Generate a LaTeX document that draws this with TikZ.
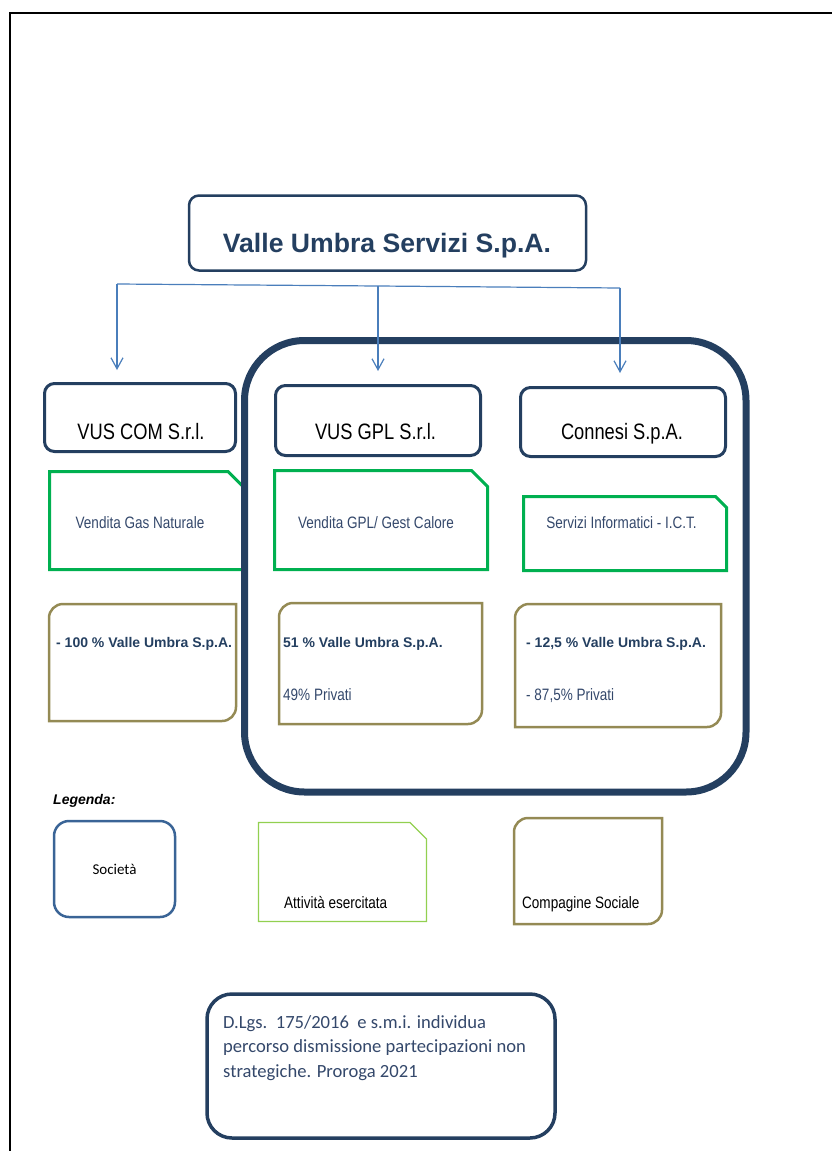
\documentclass[tikz,border=0pt]{standalone}
\usepackage{fontspec}
\setmainfont{Liberation Sans}
\newfontfamily\arialnarrow[FakeStretch=0.82]{Liberation Sans}
\newfontfamily\calibri{Carlito}
\usepackage{tikz}
\usetikzlibrary{arrows.meta}
\definecolor{navy}{HTML}{243F60}
\definecolor{slate}{HTML}{34486B}
\definecolor{linkblue}{HTML}{4A7EBB}
\definecolor{actgreen}{HTML}{00B050}
\definecolor{legendgreen}{HTML}{92D050}
\definecolor{quotaolive}{HTML}{948A54}
\definecolor{legendblue}{HTML}{3A6496}

\begin{document}
\begin{tikzpicture}[x=1pt,y=1pt,
  company/.style={draw=navy,line width=3pt,rounded corners=10pt,inner sep=0pt},
  activity/.style={draw=actgreen,line width=3pt},
  quota/.style={draw=quotaolive,line width=2.5pt},
  link/.style={draw=linkblue,line width=1.2pt},
  linkarrow/.style={link,-{Straight Barb[length=11pt,width=12pt]}},
  compname/.style={font=\arialnarrow\fontsize{22.3}{26}\selectfont,anchor=base,inner sep=0pt},
  acttext/.style={font=\arialnarrow\fontsize{16.5}{19}\selectfont,text=slate,anchor=base,inner sep=0pt},
  sharetext/.style={font=\bfseries\fontsize{14}{17}\selectfont,text=navy,anchor=base west,inner sep=0pt},
  legtext/.style={font=\arialnarrow\fontsize{16.5}{19}\selectfont,anchor=base west,inner sep=0pt}]

\useasboundingbox (0,0) rectangle (832,-1151);

\draw[line width=2pt] (10,-1152) -- (10,-13) -- (833,-13);

\node[company,line width=2.5pt,minimum width=397pt,minimum height=75pt] (vus) at (387.5,-233) {};
\node[font=\bfseries\fontsize{26.6}{30}\selectfont,text=navy,anchor=base] (vusname) at (387,-252) {Valle Umbra Servizi S.p.A.};

\node[company,minimum width=191pt,minimum height=68pt] (com) at (140,-417.5) {};
\node[company,minimum width=205pt,minimum height=70pt] (gpl) at (378,-420.5) {};
\node[company,minimum width=205pt,minimum height=69pt] (con) at (623,-422) {};
\node[compname] (comname) at (141,-439) {VUS COM S.r.l.};
\node[compname] (gplname) at (375.5,-439) {VUS GPL S.r.l.};
\node[compname] (conname) at (622,-439) {Connesi S.p.A.};

\draw[activity] (49.5,-569.5) -- (49.5,-471.5) -- (228,-471.5) -- (243,-486.5) -- (243,-569.5) -- cycle;
\draw[activity] (274.5,-569.5) -- (274.5,-470.5) -- (471.5,-470.5) -- (487.5,-486.5) -- (487.5,-569.5) -- cycle;
\draw[activity] (523.5,-570.5) -- (523.5,-496.5) -- (715.5,-496.5) -- (726.5,-507.5) -- (726.5,-570.5) -- cycle;
\node[acttext] (comact) at (140,-528) {Vendita Gas Naturale};
\node[acttext] (gplact) at (376,-528) {Vendita GPL/ Gest Calore};
\node[acttext] (conact) at (621.5,-528) {Servizi Informatici - I.C.T.};

\draw[quota] (49,-721) -- (49,-618) arc[start angle=180,end angle=90,radius=14pt] -- (236,-604) -- (236,-707) arc[start angle=0,end angle=-90,radius=14pt] -- cycle;
\draw[quota] (279,-724) -- (279,-617) arc[start angle=180,end angle=90,radius=14pt] -- (482,-603) -- (482,-710) arc[start angle=0,end angle=-90,radius=14pt] -- cycle;
\draw[quota] (515,-727) -- (515,-618) arc[start angle=180,end angle=90,radius=14pt] -- (721,-604) -- (721,-713) arc[start angle=0,end angle=-90,radius=14pt] -- cycle;
\node[sharetext] (comshare) at (56,-647) {- 100 \% Valle Umbra S.p.A.};
\node[sharetext] (gplshare) at (283,-647) {51 \% Valle Umbra S.p.A.};
\node[sharetext] (conshare) at (526,-647) {- 12,5 \% Valle Umbra S.p.A.};
\node[acttext,anchor=base west] (gplpriv) at (283,-700) {49\% Privati};
\node[acttext,anchor=base west] (conpriv) at (526,-700) {- 87,5\% Privati};

\draw[draw=navy,line width=7pt,rounded corners=60pt] (244.5,-340.5) rectangle (746,-792);

\coordinate (busl) at (117,-284);
\coordinate (busm) at (378,-286);
\coordinate (busr) at (620,-288);
\draw[link] (busl) -- (busm) -- (busr);
\draw[linkarrow,shorten >=12pt] (busl) -- (busl |- com.north);
\draw[linkarrow,shorten >=13pt] (busm) -- (busm |- gpl.north);
\draw[linkarrow,shorten >=13pt] (busr) -- (busr |- con.north);

\node[font=\bfseries\itshape\fontsize{14}{17}\selectfont,anchor=base west,inner sep=0pt] (legenda) at (53,-804) {Legenda:};
\node[draw=legendblue,line width=2.5pt,rounded corners=15pt,minimum width=121pt,minimum height=96pt,font=\calibri\fontsize{15}{18}\selectfont] (legsoc) at (114.5,-869) {Società};
\draw[draw=legendgreen,line width=1.2pt] (258.5,-921.5) -- (258.5,-822.5) -- (410,-822.5) -- (426.5,-839) -- (426.5,-921.5) -- cycle;
\node[legtext] (legatt) at (284,-908) {Attività esercitata};
\draw[quota] (514,-924) -- (514,-832) arc[start angle=180,end angle=90,radius=14pt] -- (662,-818) -- (662,-910) arc[start angle=0,end angle=-90,radius=14pt] -- cycle;
\node[legtext] (legquota) at (522,-908) {Compagine Sociale};

\node[company,line width=3.5pt,rounded corners=25pt,minimum width=348pt,minimum height=144pt] (note) at (381,-1066) {};
\node[font=\calibri\fontsize{18.6}{24.5}\selectfont,text=slate,align=left,anchor=base west,inner sep=0pt] (notetext) at (223,-1077) {D.Lgs.\ \ 175/2016\ \ e s.m.i. individua\\percorso dismissione partecipazioni non\\strategiche. Proroga 2021};

\end{tikzpicture}
\end{document}
